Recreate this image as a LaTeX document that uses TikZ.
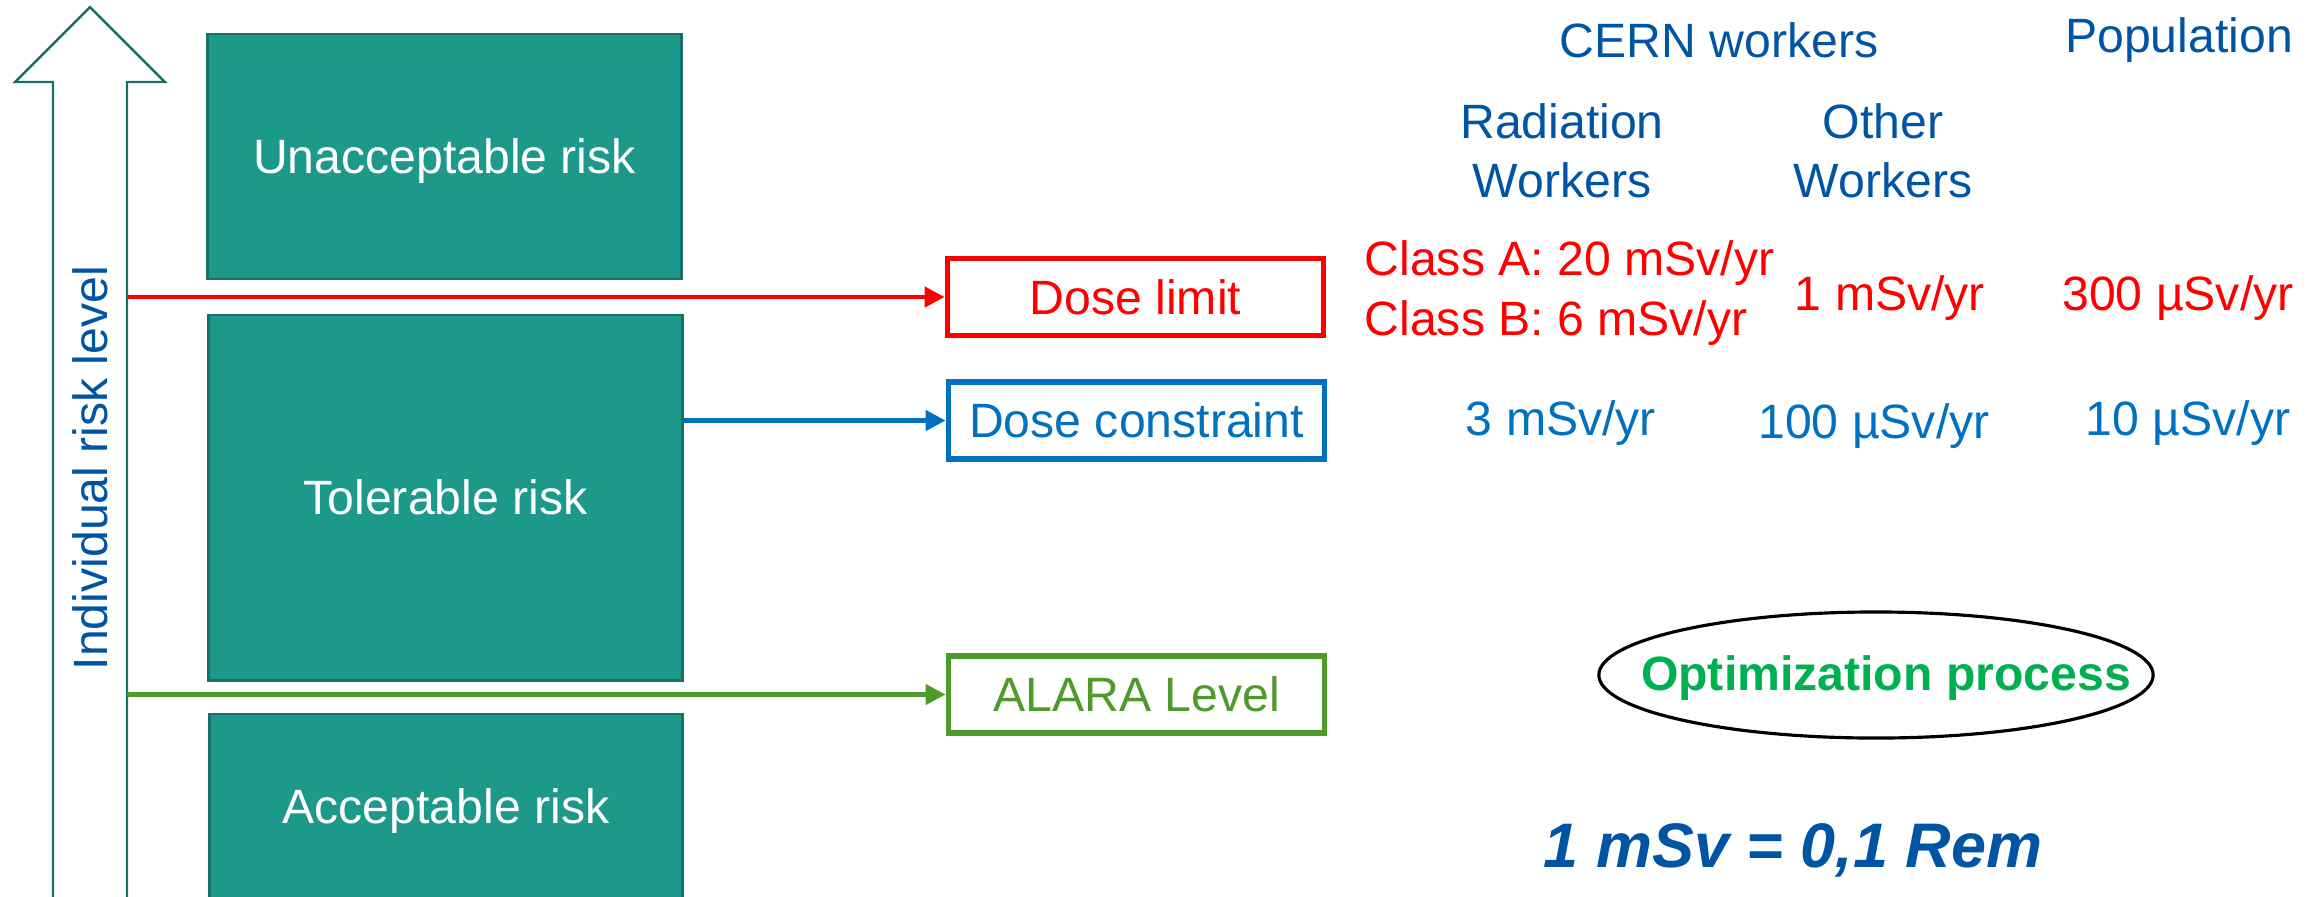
\documentclass[tikz,border=0pt]{standalone}
\usepackage{fontspec}
\setmainfont{Liberation Sans}
\usetikzlibrary{positioning,arrows.meta,shapes.geometric}
\definecolor{riskTeal}{RGB}{29,153,139}
\definecolor{riskTealDark}{RGB}{24,112,102}
\definecolor{cernBlue}{RGB}{0,84,164}
\definecolor{levelRed}{RGB}{255,0,0}
\definecolor{levelBlue}{RGB}{0,112,192}
\definecolor{levelGreen}{RGB}{78,154,42}
\definecolor{optimGreen}{RGB}{0,176,80}

\begin{document}
\begin{tikzpicture}[x=0.01cm, y=-0.01cm,
    txt/.style={font=\fontsize{13.7}{16.8}\selectfont, inner sep=0pt},
    riskbox/.style={txt, draw=riskTealDark, line width=0.8pt, fill=riskTeal, text=white, minimum width=4.73cm, text height=0.34cm, text depth=0pt},
    levelbox/.style={txt, draw=#1, text=#1, line width=1.6pt, minimum width=3.76cm, minimum height=0.77cm},
    levelarrow/.style={draw=#1, line width=1.3pt, -{Triangle[length=0.2cm,width=0.2cm]}},
    head/.style={txt, text=cernBlue, align=center},
    value/.style={txt, text=#1, anchor=base}]
  \useasboundingbox (0,0) rectangle (2317,896);

  % risk axis
  \draw[riskTealDark, line width=0.7pt] (53,900) -- (53,82) -- (15,82) -- (90,7) -- (165,82) -- (127,82) -- (127,900);
  \node[txt, text=cernBlue, rotate=90] (axis) at (90,468) {Individual risk level};
  \coordinate (shaft) at (127,0);

  % risk zones
  \node[riskbox, minimum height=2.45cm] (unacc) at (444.5,156.5) {Unacceptable risk};
  \node[riskbox, minimum height=3.65cm] (toler) at (445.5,497.5) {Tolerable risk};
  \node[riskbox, minimum height=1.84cm] (accep) at (446,806) {Acceptable risk};

  % levels
  \node[levelbox=levelRed] (dlimit) at (1135.5,297) {Dose limit};
  \node[levelbox=levelBlue] (dcons) at (1136.5,420.5) {Dose constraint};
  \node[levelbox=levelGreen] (alara) at (1136.5,694.5) {ALARA Level};
  \draw[levelarrow=levelRed] (shaft |- dlimit.west) -- (dlimit.west);
  \draw[levelarrow=levelBlue] (toler.east |- dcons.west) -- (dcons.west);
  \draw[levelarrow=levelGreen] (shaft |- alara.west) -- (alara.west);

  % columns
  \node[head, anchor=base] (cern) at (1719,57) {CERN workers};
  \node[head, anchor=base] (popul) at (2179,52) {Population};
  \node[head] (radw) at (1562,151) {Radiation\\Workers};
  \node[head] (othw) at (1883,151) {Other\\Workers};

  % values
  \node[txt, text=levelRed, align=left, anchor=west] (classab) at (1364,293) {Class A: 20 mSv/yr\\Class B: 6 mSv/yr};
  \node[value=levelRed] (lim1) at (1890,310) {1 mSv/yr};
  \node[value=levelRed] (lim2) at (2178,310) {300 µSv/yr};
  \node[value=levelBlue] (con0) at (1561,435) {3 mSv/yr};
  \node[value=levelBlue] (con1) at (1874,438) {100 µSv/yr};
  \node[value=levelBlue] (con2) at (2188,435) {10 µSv/yr};

  % optimization
  \node[draw=black, line width=0.9pt, ellipse, minimum width=5.54cm, minimum height=1.26cm] (optring) at (1876,675) {};
  \node[font=\fontsize{13.7}{16.8}\selectfont\bfseries, text=optimGreen, anchor=base, inner sep=0pt] (optim) at (1886,690) {Optimization process};
  \node[font=\fontsize{17.9}{21}\selectfont\bfseries\itshape, text=cernBlue, anchor=base, inner sep=0pt] (unit) at (1793,867) {1 mSv = 0,1 Rem};
\end{tikzpicture}
\end{document}
